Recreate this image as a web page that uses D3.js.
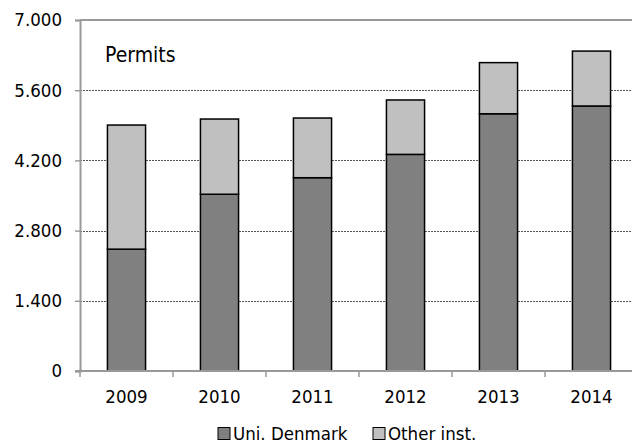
<!DOCTYPE html>
<html>
<head>
<meta charset="utf-8">
<script src="https://cdn.jsdelivr.net/npm/d3@7"></script>
<style>
	body { margin: 0; background: #fff; }
	text { font-family: 'DejaVu Sans Condensed', 'DejaVu Sans', sans-serif; fill: #000; }
</style>
</head>
<body>
<div id="chart"></div>
<script>
	const years = ['2009', '2010', '2011', '2012', '2013', '2014'];
	const uniDenmark = [2430, 3525, 3855, 4320, 5130, 5285];
	const otherInst = [2475, 1500, 1190, 1085, 1020, 1095];
	const yTicks = [0, 1400, 2800, 4200, 5600, 7000];
	const seriesNames = ['Uni. Denmark', 'Other inst.'];
	const seriesColors = ['#808080', '#c0c0c0'];

	const margin = { top: 20, right: -6, bottom: 74, left: 80 };
	const W = 632;
	const H = 445;
	const width = W - margin.left - margin.right;
	const height = H - margin.top - margin.bottom;

	const svg = d3.select('#chart').append('svg')
		.attr('width', W)
		.attr('height', H);
	const chart = svg.append('g')
		.attr('transform', `translate(${margin.left}, ${margin.top})`);

	const x = d3.scaleBand()
		.domain(years)
		.range([0, width])
		.paddingInner(0.59)
		.paddingOuter(0.295);
	const xTick = d3.scaleBand().domain(years).range([0, width]);
	const y = d3.scaleLinear()
		.domain([0, 7000])
		.range([height, 0]);

	const fmt = d => d3.format(',')(d).replace(/,/g, '.');

	// gridlines
	chart.append('g')
		.selectAll('line')
		.data(yTicks.filter(d => d > 0 && d < 7000))
		.join('line')
		.attr('x1', 0)
		.attr('x2', width)
		.attr('y1', d => Math.round(y(d)) + 0.5)
		.attr('y2', d => Math.round(y(d)) + 0.5)
		.style('stroke', '#555')
		.style('stroke-width', 1)
		.style('stroke-dasharray', '2, 1');

	// top border
	chart.append('line')
		.attr('x1', 0)
		.attr('x2', width)
		.attr('y1', y(7000))
		.attr('y2', y(7000))
		.style('stroke', '#999')
		.style('stroke-width', 2);

	// stacked bars
	const stackData = years.map((yr, i) => ({ year: yr, uni: uniDenmark[i], other: otherInst[i] }));
	const stacked = d3.stack().keys(['uni', 'other'])(stackData);

	chart.append('g')
		.selectAll('g')
		.data(stacked)
		.join('g')
		.style('fill', (d, i) => seriesColors[i])
		.selectAll('rect')
		.data(d => d)
		.join('rect')
		.attr('x', d => x(d.data.year))
		.attr('width', x.bandwidth())
		.attr('y', d => y(d[1]))
		.attr('height', d => y(d[0]) - y(d[1]))
		.style('stroke', '#000')
		.style('stroke-width', 1.5);

	// y axis
	const yAxisG = chart.append('g')
		.call(d3.axisLeft(y).tickValues(yTicks).tickSize(5).tickPadding(13).tickFormat(fmt));
	yAxisG.select('.domain').style('stroke', '#999').style('stroke-width', 2);
	yAxisG.selectAll('.tick line').style('stroke', '#999').style('stroke-width', 1.5);
	yAxisG.selectAll('text')
		.style('font-size', '18.5px')
		.style('font-family', "'DejaVu Sans Condensed', 'DejaVu Sans', sans-serif");

	// x axis
	const xAxisG = chart.append('g')
		.attr('transform', `translate(0, ${height})`);
	xAxisG.append('line')
		.attr('x1', -5)
		.attr('x2', width)
		.style('stroke', '#999')
		.style('stroke-width', 2);
	xAxisG.selectAll('.xtick')
		.data(years)
		.join('line')
		.attr('class', 'xtick')
		.attr('x1', d => xTick(d))
		.attr('x2', d => xTick(d))
		.attr('y1', 0)
		.attr('y2', 6)
		.style('stroke', '#999')
		.style('stroke-width', 1.5);
	xAxisG.selectAll('.xlabel')
		.data(years)
		.join('text')
		.attr('class', 'xlabel')
		.attr('x', d => x(d) + x.bandwidth() / 2)
		.attr('y', 32)
		.style('font-size', '18.5px')
		.style('text-anchor', 'middle')
		.text(d => d);

	// title inside plot
	chart.append('text')
		.attr('x', 25)
		.attr('y', 42)
		.style('font-size', '21px')
		.text('Permits');

	// legend
	const legend = svg.append('g')
		.attr('transform', `translate(0, ${H - 5})`);
	const legendX = [218, 373];
	seriesNames.forEach((name, i) => {
		legend.append('rect')
			.attr('x', legendX[i])
			.attr('y', -12.5)
			.attr('width', 12)
			.attr('height', 12)
			.style('fill', seriesColors[i])
			.style('stroke', '#000')
			.style('stroke-width', 1);
		legend.append('text')
			.attr('x', legendX[i] + 15)
			.attr('y', 0)
			.style('font-size', '18.5px')
			.text(name);
	});
</script>
</body>
</html>
